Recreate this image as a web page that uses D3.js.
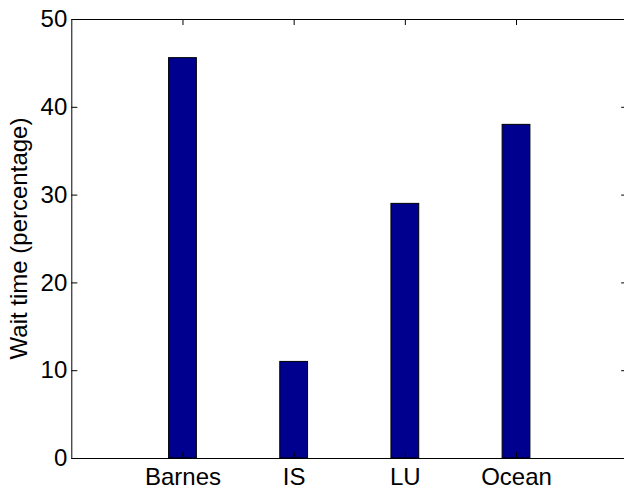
<!DOCTYPE html>
<html>
<head>
<meta charset="utf-8">
<script src="https://cdn.jsdelivr.net/npm/d3@7"></script>
<style>
  html, body { margin: 0; padding: 0; background: #fff; overflow: hidden; }
  svg { display: block; }
  text { font-family: "Liberation Sans", Arial, sans-serif; fill: #000; }
</style>
</head>
<body>
<div id="chart"></div>
<script>
// data
const categories = ['Barnes', 'IS', 'LU', 'Ocean'];
const waitTimes = [45.6, 11.0, 29.0, 38.0];
const yTicks = [0, 10, 20, 30, 40, 50];
const yLabel = 'Wait time (percentage)';

const width = 624;
const height = 492;
const plot = { left: 71.3, right: 627.2, top: 19, bottom: 458 };
const tickLen = 6;

const svg = d3.select('#chart')
  .append('svg')
  .attr('width', width)
  .attr('height', height);

const x = d3.scaleLinear()
  .domain([0, categories.length + 1])
  .range([plot.left, plot.right]);

const y = d3.scaleLinear()
  .domain([0, 50])
  .range([plot.bottom, plot.top]);

const barW = x(0.25) - x(0);

// bars
svg.append('g')
  .selectAll('rect')
  .data(waitTimes)
  .join('rect')
  .attr('x', (d, i) => x(i + 1) - barW / 2)
  .attr('y', d => y(d))
  .attr('width', barW)
  .attr('height', d => y(0) - y(d))
  .attr('fill', '#00008f')
  .attr('stroke', '#000')
  .attr('stroke-width', 1);

const xTickVals = categories.map((c, i) => i + 1);

// bottom axis
svg.append('g')
  .attr('transform', `translate(0,${plot.bottom})`)
  .call(d3.axisBottom(x).tickValues(xTickVals)
    .tickFormat((d, i) => categories[i])
    .tickSizeInner(-tickLen).tickSizeOuter(0).tickPadding(10))
  .call(g => g.selectAll('text').attr('font-size', 24).attr('dy', '0.71em'))
  .call(g => g.select('.domain').attr('stroke', '#000'));

// top axis (ticks only)
svg.append('g')
  .attr('transform', `translate(0,${plot.top})`)
  .call(d3.axisTop(x).tickValues(xTickVals).tickFormat('')
    .tickSizeInner(-tickLen).tickSizeOuter(0))
  .call(g => g.select('.domain').attr('stroke', '#000'));

// left axis
svg.append('g')
  .attr('transform', `translate(${plot.left},0)`)
  .call(d3.axisLeft(y).tickValues(yTicks)
    .tickSizeInner(-tickLen).tickSizeOuter(0).tickPadding(4))
  .call(g => g.selectAll('text').attr('font-size', 24))
  .call(g => g.select('.domain').attr('stroke', '#000'));

// right axis (ticks only)
svg.append('g')
  .attr('transform', `translate(${plot.right},0)`)
  .call(d3.axisRight(y).tickValues(yTicks).tickFormat('')
    .tickSizeInner(-tickLen).tickSizeOuter(0))
  .call(g => g.select('.domain').attr('stroke', '#000'));

svg.selectAll('.tick line').attr('stroke', '#000');
svg.selectAll('.domain').attr('fill', 'none');
svg.selectAll('.tick text').attr('font-family', '"Liberation Sans", Arial, sans-serif').attr('fill', '#000');

// y label
svg.append('text')
  .attr('transform', `translate(27,${(plot.top + plot.bottom) / 2}) rotate(-90)`)
  .attr('text-anchor', 'middle')
  .attr('font-size', 24)
  .text(yLabel);
</script>
</body>
</html>
